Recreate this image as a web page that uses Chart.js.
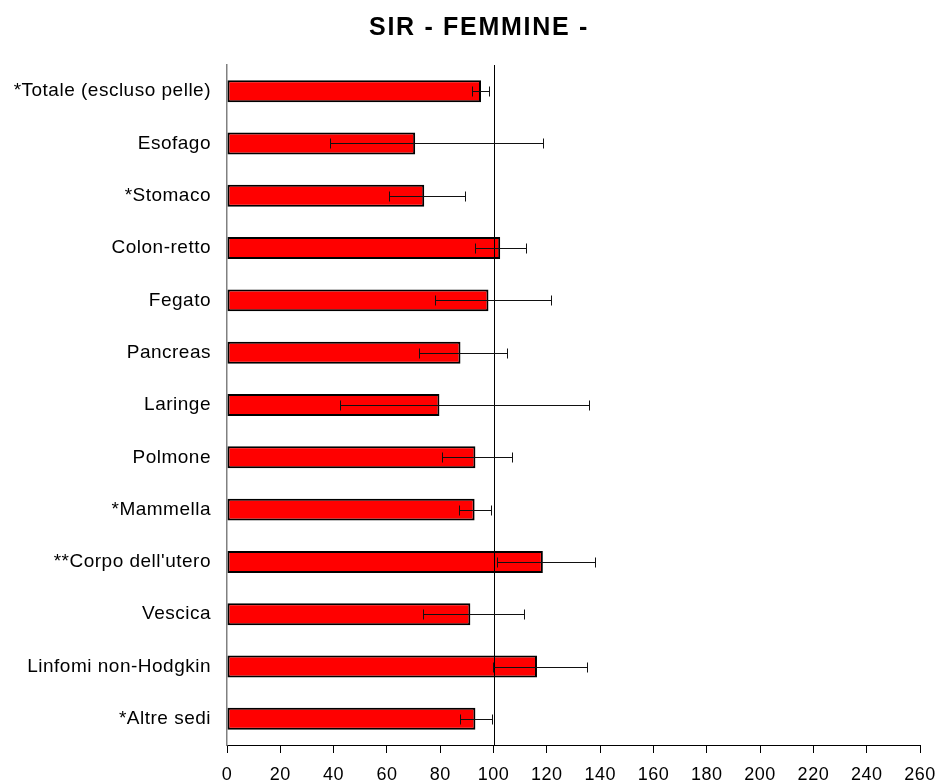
<!DOCTYPE html>
<html>
<head>
<meta charset="utf-8">
<title>SIR - FEMMINE -</title>
<script src="https://cdn.jsdelivr.net/npm/chart.js@4/dist/chart.umd.min.js"></script>
<style>
  html, body { margin: 0; padding: 0; background: #fff; }
  #wrap { width: 942px; height: 782px; }
</style>
</head>
<body>
<div id="wrap"><canvas id="sirChart" width="942" height="782"></canvas></div>
<script>
// Sedi tumorali
const categories = [
  "*Totale (escluso pelle)", "Esofago", "*Stomaco", "Colon-retto", "Fegato",
  "Pancreas", "Laringe", "Polmone", "*Mammella", "**Corpo dell'utero",
  "Vescica", "Linfomi non-Hodgkin", "*Altre sedi"
];

// SIR e intervalli di confidenza
const sirValues = [95.3, 70.6, 74.0, 102.5, 98.1, 87.6, 79.7, 93.2, 92.9, 118.5, 91.3, 116.3, 93.2];
const ciLow     = [91.9, 38.5, 60.8, 92.9, 78.0, 72.1, 42.3, 80.6, 87.1, 101.3, 73.5, 99.8, 87.4];
const ciHigh    = [98.4, 118.5, 89.2, 112.2, 121.4, 105.2, 136.0, 107.0, 99.1, 137.9, 111.6, 134.9, 99.4];

// Asse X
const xMin = 0;
const xMax = 260;
const xStep = 20;
const refValue = 100;

const titleText = 'SIR - FEMMINE -';

// Titolo, barre di errore e linea di riferimento
const extrasPlugin = {
  id: 'extras',
  beforeDraw(chart) {
    // il testo del grafico originale e' un po' spaziato
    chart.ctx.letterSpacing = '0.5px';
  },
  afterDatasetsDraw(chart) {
    const ctx = chart.ctx;
    const x = chart.scales.x;
    const y = chart.scales.y;
    const area = chart.chartArea;

    // linea verticale a 100
    const xr = Math.round(x.getPixelForValue(refValue)) + 0.5;
    ctx.save();
    ctx.strokeStyle = '#000';
    ctx.lineWidth = 1;
    ctx.beginPath();
    ctx.moveTo(xr, area.top);
    ctx.lineTo(xr, area.bottom);
    ctx.stroke();

    // barre di errore
    ctx.strokeStyle = '#111';
    ctx.lineWidth = 1;
    categories.forEach((c, i) => {
      const yc = Math.round(y.getPixelForValue(i)) + 0.5;
      const x1 = Math.round(x.getPixelForValue(ciLow[i])) + 0.5;
      const x2 = Math.round(x.getPixelForValue(ciHigh[i])) + 0.5;
      ctx.beginPath();
      ctx.moveTo(x1, yc);
      ctx.lineTo(x2, yc);
      ctx.moveTo(x1, yc - 5);
      ctx.lineTo(x1, yc + 5);
      ctx.moveTo(x2, yc - 5);
      ctx.lineTo(x2, yc + 5);
      ctx.stroke();
    });
    ctx.restore();
  },
  afterDraw(chart) {
    const ctx = chart.ctx;
    ctx.save();
    ctx.letterSpacing = '1.7px';
    ctx.font = "bold 25px 'Liberation Sans', Arial, sans-serif";
    ctx.fillStyle = '#000';
    ctx.textAlign = 'center';
    ctx.textBaseline = 'alphabetic';
    ctx.fillText(titleText, 479, 35);
    ctx.restore();
  }
};

function createChart() {
  const ctx = document.getElementById('sirChart').getContext('2d');
  new Chart(ctx, {
    type: 'bar',
    data: {
      labels: categories,
      datasets: [{
        label: 'SIR',
        data: sirValues,
        backgroundColor: '#ff0000',
        borderColor: '#000',
        borderWidth: 2,
        borderSkipped: false,
        barPercentage: 0.42,
        categoryPercentage: 1
      }]
    },
    options: {
      indexAxis: 'y',
      responsive: false,
      animation: false,
      layout: { padding: { left: 0, right: 22, top: 65, bottom: 0 } },
      plugins: {
        legend: { display: false },
        tooltip: { enabled: false },
        title: { display: false }
      },
      scales: {
        x: {
          min: xMin,
          max: xMax,
          position: 'bottom',
          border: { color: '#000', width: 1 },
          grid: { display: true, drawOnChartArea: false, drawTicks: true, tickLength: 8, color: '#000' },
          ticks: {
            stepSize: xStep,
            color: '#000',
            padding: 11,
            maxRotation: 0,
            font: { family: "'Liberation Sans', Arial, sans-serif", size: 18 }
          },
          afterFit(scale) {
            scale.height = 37;
            scale.paddingLeft = 0;
            scale.paddingRight = 0;
          }
        },
        y: {
          border: { color: '#808080', width: 1.5 },
          grid: { display: false },
          ticks: {
            color: '#000',
            padding: 8,
            font: { family: "'Liberation Sans', Arial, sans-serif", size: 19 }
          },
          afterFit(scale) { scale.width = 227; }
        }
      }
    },
    plugins: [extrasPlugin]
  });
}

document.addEventListener("DOMContentLoaded", function() {
  createChart();
});
</script>
</body>
</html>
